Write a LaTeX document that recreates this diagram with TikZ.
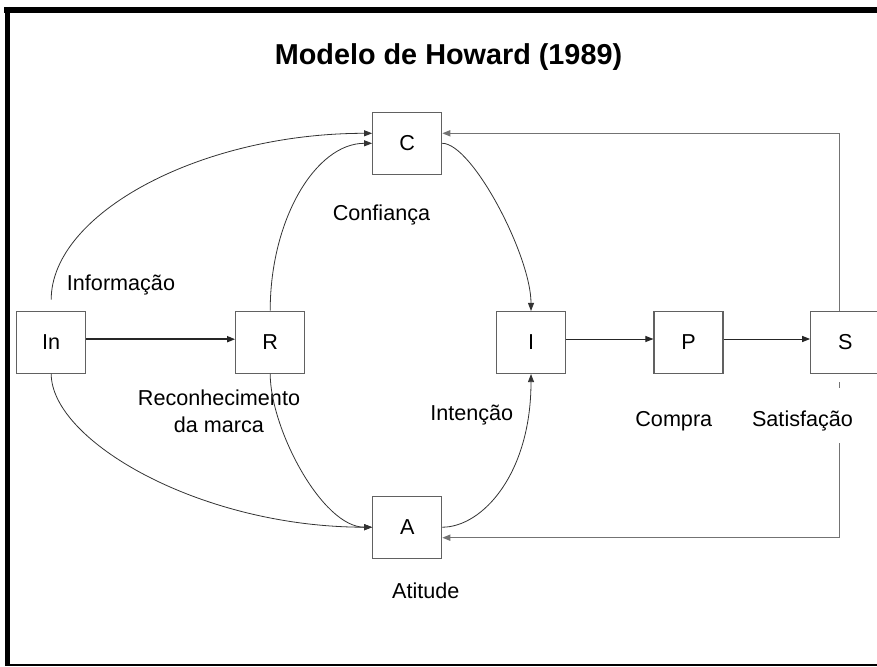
\documentclass[tikz,border=0pt]{standalone}
\usepackage{fontspec}
\setmainfont{Liberation Sans}
\usetikzlibrary{arrows.meta,calc}
\begin{document}
\begin{tikzpicture}[x=1pt,y=-1pt,
  box/.style={draw=black!62,line width=1.1pt,fill=white,minimum width=69pt,minimum height=62pt,inner sep=0pt,font=\fontsize{21.6}{26}\selectfont},
  lbl/.style={anchor=base,inner sep=0pt,font=\fontsize{21.6}{26}\selectfont},
  curve/.style={draw=black!80,line width=0.8pt,-{Triangle[length=8pt,width=6pt]}},
  straight/.style={draw=black!85,line width=1pt,-{Triangle[length=8pt,width=6pt]}},
  frame/.style={draw=black!55,line width=1.4pt},
  frametip/.style={frame,-{Triangle[length=8pt,width=6pt]}}]
\useasboundingbox (0,0) rectangle (877,666);
% page border
\draw[line width=6pt] (4,9.7) -- (877,9.7);
\draw[line width=5pt] (7.5,7) -- (7.5,666);
\draw[line width=1.6pt] (5,665) -- (877,665);
% title
\node[anchor=base,inner sep=0pt,font=\fontsize{28.8}{34}\selectfont\bfseries] (title) at (448.5,64.5) {Modelo de Howard (1989)};
% boxes
\node[box] (C) at (407.2,143.3) {C};
\node[box] (In) at (51.2,342.2) {In};
\node[box] (R) at (270.2,342.2) {R};
\node[box] (I) at (531,342.5) {I};
\node[box] (P) at (688.5,342.5) {P};
\node[box] (S) at (845.2,342.5) {S};
\node[box] (A) at (407.2,527.2) {A};
% labels
\node[lbl] (linf) at (121,290) {Informação};
\node[lbl] (lconf) at (381.5,220.7) {Confiança};
\node[lbl] (lrec1) at (219,405.7) {Reconhecimento};
\node[lbl] (lrec2) at (219,432.7) {da marca};
\node[lbl] (lint) at (471.7,420) {Intenção};
\node[lbl] (lcomp) at (673.8,426.5) {Compra};
\node[lbl] (lsat) at (802.5,426.5) {Satisfação};
\node[lbl] (lati) at (425.8,598.3) {Atitude};
% curved connectors
\draw[curve] ($(In.north)+(0,-11)$) .. controls +(0,-86) and +(-172,0) .. ($(C.west)+(0,-10)$);
\draw[curve] (R.north) .. controls +(0,-92) and +(-56,0) .. (C.west);
\draw[curve] (C.east) .. controls +(30,0) and +(0,-55) .. (I.north);
\draw[curve] (In.south) .. controls +(0,67) and +(-172,0) .. (A.west);
\draw[curve] (R.south) .. controls +(0,55) and +(-50,0) .. (A.west);
\draw[curve] (A.east) .. controls +(40,0) and +(0,100) .. (I.south);
% straight connectors
\draw[straight,line width=1.6pt] ($(In.east)+(0,-3)$) -- ($(R.west)+(0,-3)$);
\draw[straight] ($(I.east)+(0,-3.5)$) -- ($(P.west)+(0,-3.5)$);
\draw[straight] ($(P.east)+(0,-3.5)$) -- ($(S.west)+(0,-3.5)$);
% feedback loops
\draw[frametip] ($(S.north)+(-6,0)$) |- ($(C.east)+(0,-10)$);
\coordinate (tickA) at ($(S.south)+(-6,8)$);
\coordinate (tickB) at ($(S.south)+(-6,14)$);
\coordinate (loopstart) at ($(S.south)+(-6,69)$);
\draw[frame] (tickA) -- (tickB);
\draw[frametip] (loopstart) |- ($(A.east)+(0,10.5)$);
\end{tikzpicture}
\end{document}
